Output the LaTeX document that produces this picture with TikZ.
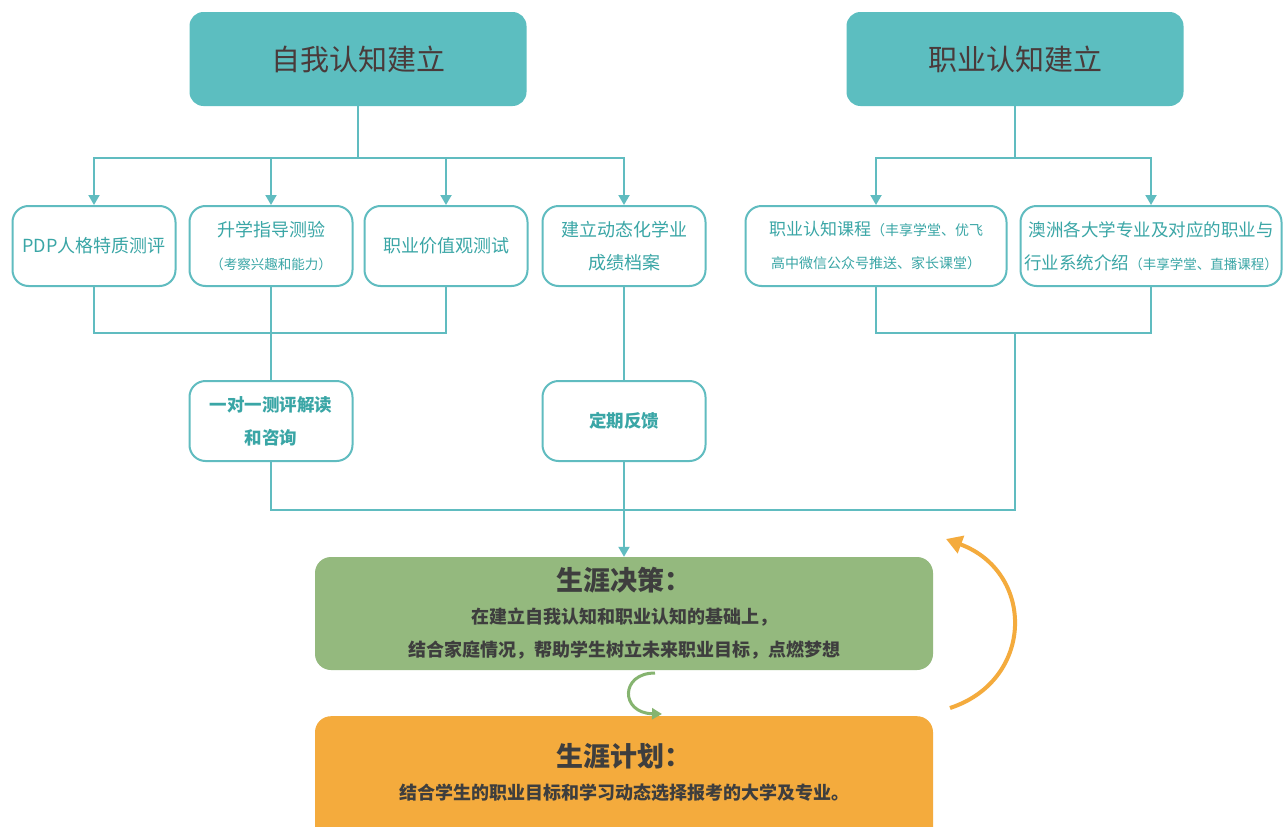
\documentclass[tikz,border=0pt]{standalone}
\usepackage{fontspec}
\setmainfont{Noto Sans CJK SC}
\usepackage{tikz}
\usetikzlibrary{arrows.meta,positioning}
\definecolor{tealfill}{RGB}{92,190,192}
\definecolor{tealline}{RGB}{96,188,192}
\definecolor{tealtext}{RGB}{58,166,166}
\definecolor{headtext}{RGB}{74,58,58}
\definecolor{leaf}{RGB}{148,185,126}
\definecolor{leafline}{RGB}{134,180,112}
\definecolor{amber}{RGB}{244,171,61}
\definecolor{ink}{RGB}{62,62,62}
\tikzstyle{link}=[draw=tealline,line width=2pt]
\tikzstyle{flow}=[link,-{Triangle[length=10pt,width=11pt]}]

\begin{document}
\begin{tikzpicture}[x=1pt,y=-1pt,
head/.style={rectangle,rounded corners=14pt,fill=tealfill,text=headtext,
  minimum width=337pt,minimum height=94pt,font=\fontsize{29}{33}\selectfont},
item/.style={rectangle,rounded corners=16pt,draw=tealline,line width=2pt,fill=white,
  text=tealtext,minimum width=163pt,minimum height=80pt,align=center,
  inner xsep=1pt,font=\fontsize{18}{33}\selectfont},
wide/.style={item,minimum width=261pt},
stage/.style={rectangle,rounded corners=16pt,minimum width=618pt,align=center,
  text=ink,font=\bfseries\fontsize{18}{33}\selectfont},
]
\clip (0,0) rectangle (1285,827);
\fill[white] (0,0) rectangle (1285,827);
% top headings
\node[head] (self) at (358,59) {自我认知建立};
\node[head] (career) at (1015,59) {职业认知建立};
% self cognition row
\node[item] (pdp) at (94,246) {PDP人格特质测评};
\node[item] (aptitude) at (271,246) {升学指导测验\\{\fontsize{13.5}{14}\selectfont（考察兴趣和能力）}};
\node[item] (value) at (446,246) {职业价值观测试};
\node[item] (archive) at (624,246) {建立动态化学业\\成绩档案};
% career cognition row
\node[wide] (course) at (876,246) {{\fontsize{17}{20}\selectfont 职业认知课程}{\fontsize{14}{14}\selectfont（丰享学堂、优飞}\\{\fontsize{14}{14}\selectfont 高中微信公众号推送、家长课堂）}};
\node[wide] (intro) at (1151,246) {{\fontsize{17.5}{20}\selectfont 澳洲各大学专业及对应的职业与}\\{\fontsize{17.5}{20}\selectfont 行业系统介绍}{\fontsize{13.5}{14}\selectfont（丰享学堂、直播课程）}};
% follow up
\node[item,font=\bfseries\fontsize{17.5}{33}\selectfont] (consult) at (271,421) {一对一测评解读\\和咨询};
\node[item,font=\bfseries\fontsize{17.5}{33}\selectfont] (feedback) at (624,421) {定期反馈};
% stages
\node[stage,fill=leaf,minimum height=113pt] (decision) at (624,613.5)
  {{\fontsize{27}{30}\selectfont 生涯决策：}\\在建立自我认知和职业认知的基础上，\\结合家庭情况，帮助学生树立未来职业目标，点燃梦想};
\node[stage,fill=amber,minimum height=140pt,anchor=north] (plan) at (624,716) {};
\node[text=ink,align=center,font=\bfseries\fontsize{18}{33}\selectfont] (plantext) at (624,772)
  {{\fontsize{27}{30}\selectfont 生涯计划：}\\结合学生的职业目标和学习动态选择报考的大学及专业。};
% bus coordinates
\coordinate (selfbus) at (358,158);
\coordinate (careerbus) at (1015,158);
\coordinate (selfjoin) at (271,333);
\coordinate (careerjoin) at (1015,333);
\coordinate (busend) at (1015,510);
\draw[link] (self) -- (selfbus);
\draw[flow] (selfbus) -| (pdp);
\draw[flow] (selfbus) -| (aptitude);
\draw[flow] (selfbus) -| (value);
\draw[flow] (selfbus) -| (archive);
\draw[link] (career) -- (careerbus);
\draw[flow] (careerbus) -| (course);
\draw[flow] (careerbus) -| (intro);
\draw[link] (pdp) |- (selfjoin) -| (value);
\draw[link] (aptitude) -- (consult);
\draw[link] (archive) -- (feedback);
\draw[link] (course) |- (careerjoin) -| (intro);
\draw[link] (consult) |- (busend) -- (careerjoin);
\draw[flow] (feedback) -- (decision);
% loop arrows
\coordinate (cstart) at (655,673);
\coordinate (cend) at (662,714);
\draw[leafline,line width=3pt,-{Triangle[length=10pt,width=11pt]}]
  (cstart) .. controls (620,673) and (620,713) .. (cend);
\coordinate (arcstart) at (950,708);
\coordinate (arcend) at (946,539);
\draw[amber,line width=4pt,-{Triangle[length=16pt,width=18pt]}]
  (arcstart) .. controls (1035,680) and (1035,572) .. (arcend);
\end{tikzpicture}
\end{document}
